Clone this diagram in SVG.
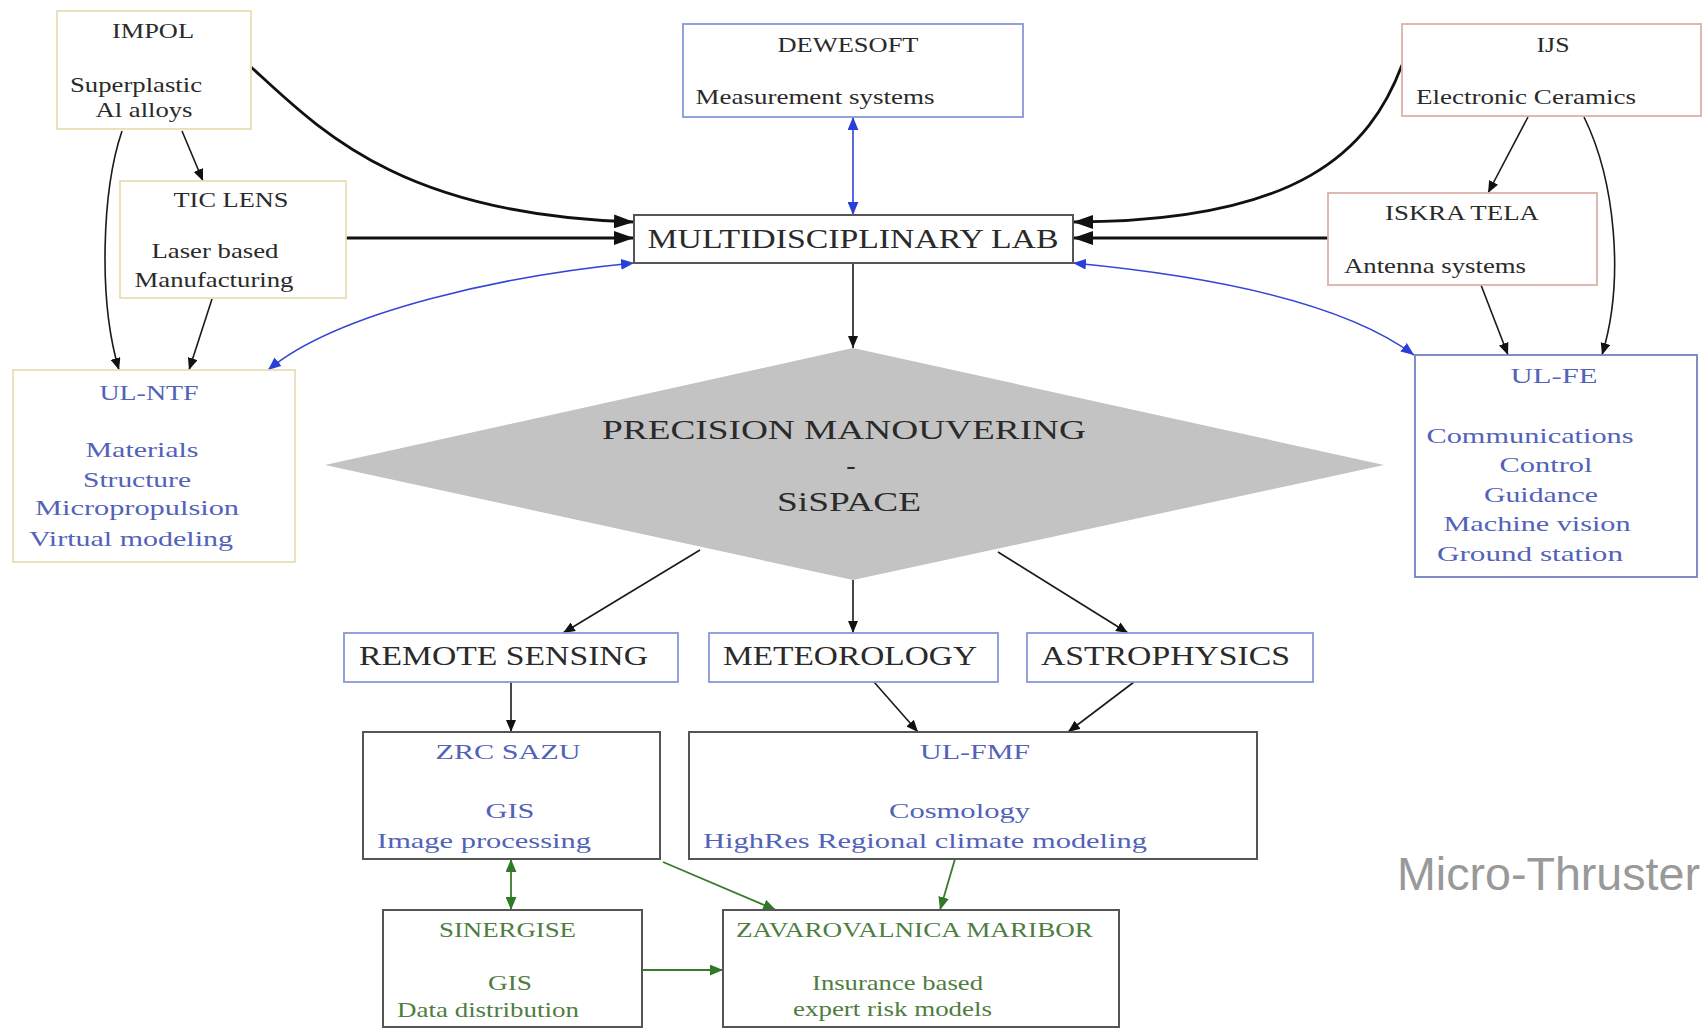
<svg xmlns="http://www.w3.org/2000/svg" width="1706" height="1028" viewBox="0 0 1706 1028">
<style>
.bg{fill:#fff}
.n{fill:#fff;stroke-width:1.8}
.y{stroke:#e8deb6}
.p{stroke:#dbb2aa}
.b{stroke:#8898d8}
.bd{stroke:#7282c2}
.d{stroke:#555;stroke-width:2}
text{font-family:"Liberation Serif","Times New Roman",serif;text-anchor:middle;font-size:22px;fill:#2a2a2a}
.big{font-size:27px}
.dia{font-size:28px}
.tb{fill:#5262b8;font-size:22px}
.tg{fill:#4f7d3f}
.e{fill:none;stroke:#1a1a1a;stroke-width:1.6}
.et{fill:none;stroke:#111;stroke-width:2.8}
.eb{fill:none;stroke:#3346d6;stroke-width:1.6}
.eg{fill:none;stroke:#3a7a2c;stroke-width:1.8}
</style>
<defs>
<marker id="ak" viewBox="0 0 12 10" markerWidth="12" markerHeight="10" refX="12" refY="5" orient="auto-start-reverse" markerUnits="userSpaceOnUse"><path d="M0,0 L12,5 L0,10 z" fill="#111"/></marker>
<marker id="akb" viewBox="0 0 20 14" markerWidth="20" markerHeight="14" refX="20" refY="7" orient="auto-start-reverse" markerUnits="userSpaceOnUse"><path d="M0,0 L20,7 L0,14 z" fill="#111"/></marker>
<marker id="ab" viewBox="0 0 12 10" markerWidth="13" markerHeight="11" refX="12" refY="5" orient="auto-start-reverse" markerUnits="userSpaceOnUse"><path d="M0,0 L12,5 L0,10 z" fill="#2a3fd8"/></marker>
<marker id="ag" viewBox="0 0 12 10" markerWidth="13" markerHeight="11" refX="12" refY="5" orient="auto-start-reverse" markerUnits="userSpaceOnUse"><path d="M0,0 L12,5 L0,10 z" fill="#2f7a25"/></marker>
</defs>
<rect class="bg" x="0" y="0" width="1706" height="1028"/>

<g id="connectors">
<path class="et" d="M251,67 C320,130 400,215 634,222" marker-end="url(#akb)"/>
<path class="et" d="M346,238 L634,238" marker-end="url(#akb)"/>
<path class="et" d="M1402,65 C1370,150 1300,222 1073,222" marker-end="url(#akb)"/>
<path class="et" d="M1328,238 L1073,238" marker-end="url(#akb)"/>
<path class="e" d="M182,131 L203,181" marker-end="url(#ak)"/>
<path class="e" d="M122,131 C102,190 98,300 119,370" marker-end="url(#ak)"/>
<path class="e" d="M212,299 L189,370" marker-end="url(#ak)"/>
<path class="e" d="M1528,117 L1488,193" marker-end="url(#ak)"/>
<path class="e" d="M1481,285 L1508,355" marker-end="url(#ak)"/>
<path class="e" d="M1584,117 C1615,180 1625,280 1602,355" marker-end="url(#ak)"/>
<path class="e" d="M853,263 L853,348" marker-end="url(#ak)"/>
<path class="e" d="M700,550 L563,633" marker-end="url(#ak)"/>
<path class="e" d="M853,580 L853,633" marker-end="url(#ak)"/>
<path class="e" d="M998,552 L1128,633" marker-end="url(#ak)"/>
<path class="e" d="M511,682 L511,732" marker-end="url(#ak)"/>
<path class="e" d="M874,682 L918,732" marker-end="url(#ak)"/>
<path class="e" d="M1134,682 L1068,732" marker-end="url(#ak)"/>
<path class="eb" d="M853,117 L853,215" marker-start="url(#ab)" marker-end="url(#ab)"/>
<path class="eb" d="M634,263 C510,275 340,310 268,370" marker-start="url(#ab)" marker-end="url(#ab)"/>
<path class="eb" d="M1073,263 C1200,275 1340,300 1414,355" marker-start="url(#ab)" marker-end="url(#ab)"/>
<path class="eg" d="M511,859 L511,910" marker-start="url(#ag)" marker-end="url(#ag)"/>
<path class="eg" d="M663,862 L776,910" marker-end="url(#ag)"/>
<path class="eg" d="M955,859 L940,910" marker-end="url(#ag)"/>
<path class="eg" d="M642,970 L723,970" marker-end="url(#ag)"/>
</g>

<g id="impol">
<rect class="n y" x="57" y="11" width="194" height="118"/>
<text x="153" y="38" textLength="82" lengthAdjust="spacingAndGlyphs">IMPOL</text>
<text x="136" y="92" textLength="132" lengthAdjust="spacingAndGlyphs">Superplastic</text>
<text x="144" y="117" textLength="97" lengthAdjust="spacingAndGlyphs">Al alloys</text>
</g>

<g id="ticlens">
<rect class="n y" x="120" y="181" width="226" height="117"/>
<text x="231" y="207" textLength="115" lengthAdjust="spacingAndGlyphs">TIC LENS</text>
<text x="215" y="258" textLength="127" lengthAdjust="spacingAndGlyphs">Laser based</text>
<text x="214" y="287" textLength="159" lengthAdjust="spacingAndGlyphs">Manufacturing</text>
</g>

<g id="ulntf">
<rect class="n y" x="13" y="370" width="282" height="192"/>
<text class="tb" x="149" y="400" textLength="99" lengthAdjust="spacingAndGlyphs">UL-NTF</text>
<text class="tb" x="142" y="457" textLength="113" lengthAdjust="spacingAndGlyphs">Materials</text>
<text class="tb" x="137" y="487" textLength="108" lengthAdjust="spacingAndGlyphs">Structure</text>
<text class="tb" x="137" y="515" textLength="204" lengthAdjust="spacingAndGlyphs">Micropropulsion</text>
<text class="tb" x="131" y="546" textLength="204" lengthAdjust="spacingAndGlyphs">Virtual modeling</text>
</g>

<g id="dewesoft">
<rect class="n b" x="683" y="24" width="340" height="93"/>
<text x="848" y="52" textLength="141" lengthAdjust="spacingAndGlyphs">DEWESOFT</text>
<text x="815" y="104" textLength="239" lengthAdjust="spacingAndGlyphs">Measurement systems</text>
</g>

<g id="multilab">
<rect class="n d" x="634" y="215" width="439" height="48"/>
<text class="big" x="853" y="248" textLength="411" lengthAdjust="spacingAndGlyphs">MULTIDISCIPLINARY LAB</text>
</g>

<g id="ijs">
<rect class="n p" x="1402" y="24" width="299" height="92"/>
<text x="1553" y="52" textLength="33" lengthAdjust="spacingAndGlyphs">IJS</text>
<text x="1526" y="104" textLength="220" lengthAdjust="spacingAndGlyphs">Electronic Ceramics</text>
</g>

<g id="iskratela">
<rect class="n p" x="1328" y="193" width="269" height="92"/>
<text x="1462" y="220" textLength="154" lengthAdjust="spacingAndGlyphs">ISKRA TELA</text>
<text x="1435" y="273" textLength="182" lengthAdjust="spacingAndGlyphs">Antenna systems</text>
</g>

<g id="ulfe">
<rect class="n bd" x="1415" y="355" width="282" height="222"/>
<text class="tb" x="1554" y="383" textLength="87" lengthAdjust="spacingAndGlyphs">UL-FE</text>
<text class="tb" x="1530" y="443" textLength="207" lengthAdjust="spacingAndGlyphs">Communications</text>
<text class="tb" x="1546" y="472" textLength="93" lengthAdjust="spacingAndGlyphs">Control</text>
<text class="tb" x="1541" y="502" textLength="114" lengthAdjust="spacingAndGlyphs">Guidance</text>
<text class="tb" x="1537" y="531" textLength="187" lengthAdjust="spacingAndGlyphs">Machine vision</text>
<text class="tb" x="1530" y="561" textLength="186" lengthAdjust="spacingAndGlyphs">Ground station</text>
</g>

<g id="precision">
<polygon points="853,348 1384,465 853,580 325,465" fill="#c3c3c3"/>
<text class="dia" x="844" y="439" textLength="484" lengthAdjust="spacingAndGlyphs">PRECISION MANOUVERING</text>
<text class="dia" x="851" y="474">-</text>
<text class="dia" x="849" y="511" textLength="144" lengthAdjust="spacingAndGlyphs">SiSPACE</text>
</g>

<g id="remotesensing">
<rect class="n b" x="344" y="633" width="334" height="49"/>
<text class="big" x="503.5" y="665" textLength="289" lengthAdjust="spacingAndGlyphs">REMOTE SENSING</text>
</g>

<g id="meteorology">
<rect class="n b" x="709" y="633" width="289" height="49"/>
<text class="big" x="850" y="665" textLength="254" lengthAdjust="spacingAndGlyphs">METEOROLOGY</text>
</g>

<g id="astrophysics">
<rect class="n b" x="1027" y="633" width="286" height="49"/>
<text class="big" x="1165.5" y="665" textLength="249" lengthAdjust="spacingAndGlyphs">ASTROPHYSICS</text>
</g>

<g id="zrcsazu">
<rect class="n d" x="363" y="732" width="297" height="127"/>
<text class="tb" x="508" y="759" textLength="145" lengthAdjust="spacingAndGlyphs">ZRC SAZU</text>
<text class="tb" x="510" y="818" textLength="49" lengthAdjust="spacingAndGlyphs">GIS</text>
<text class="tb" x="484" y="848" textLength="214" lengthAdjust="spacingAndGlyphs">Image processing</text>
</g>

<g id="ulfmf">
<rect class="n d" x="689" y="732" width="568" height="127"/>
<text class="tb" x="975" y="759" textLength="110" lengthAdjust="spacingAndGlyphs">UL-FMF</text>
<text class="tb" x="959.5" y="818" textLength="141" lengthAdjust="spacingAndGlyphs">Cosmology</text>
<text class="tb" x="925" y="848" textLength="444" lengthAdjust="spacingAndGlyphs">HighRes Regional climate modeling</text>
</g>

<g id="sinergise">
<rect class="n d" x="383" y="910" width="259" height="117"/>
<text class="tg" x="507.5" y="937" textLength="137" lengthAdjust="spacingAndGlyphs">SINERGISE</text>
<text class="tg" x="510" y="990" textLength="44" lengthAdjust="spacingAndGlyphs">GIS</text>
<text class="tg" x="488" y="1017" textLength="182" lengthAdjust="spacingAndGlyphs">Data distribution</text>
</g>

<g id="zavarovalnica">
<rect class="n d" x="723" y="910" width="396" height="117"/>
<text class="tg" x="914.5" y="937" textLength="357" lengthAdjust="spacingAndGlyphs">ZAVAROVALNICA MARIBOR</text>
<text class="tg" x="897.5" y="990" textLength="171" lengthAdjust="spacingAndGlyphs">Insurance based</text>
<text class="tg" x="892.5" y="1016" textLength="199" lengthAdjust="spacingAndGlyphs">expert risk models</text>
</g>

<text x="1397" y="890" style="font-family:'Liberation Sans',Arial,sans-serif;font-size:46px;fill:#999;text-anchor:start" textLength="303" lengthAdjust="spacingAndGlyphs">Micro-Thruster</text>
</svg>
